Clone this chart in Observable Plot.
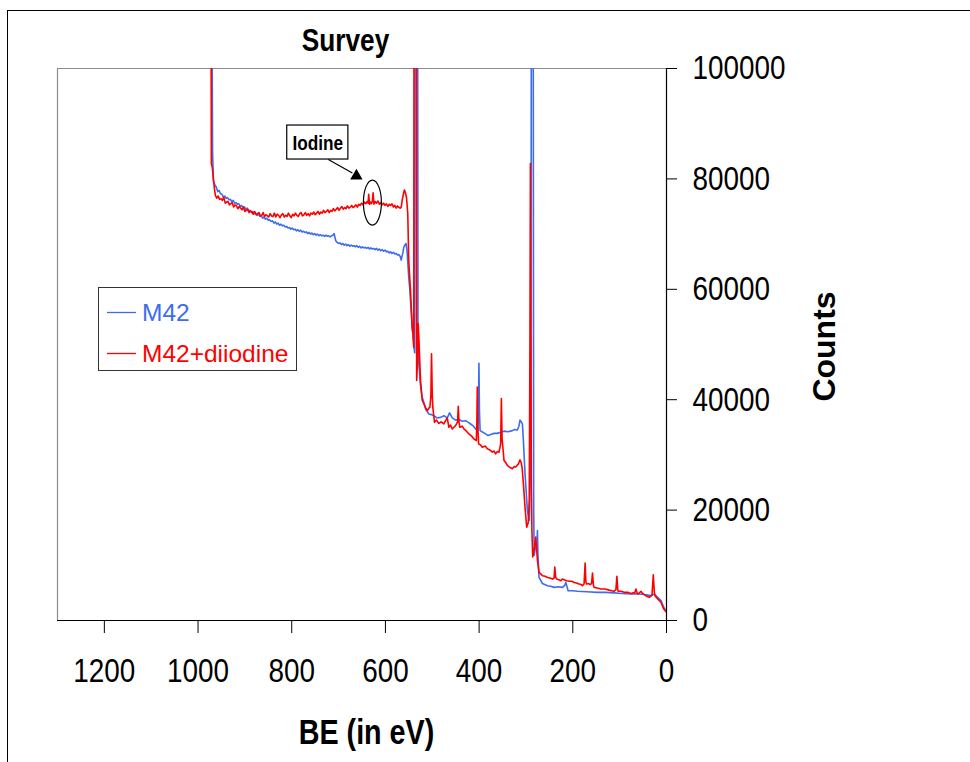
<!DOCTYPE html>
<html><head><meta charset="utf-8">
<script src="https://cdn.jsdelivr.net/npm/d3@7"></script>
<script src="https://cdn.jsdelivr.net/npm/@observablehq/plot@0.6"></script>
<style>
body{margin:0;background:#fff;overflow:hidden;}
#wrap{position:relative;width:970px;height:762px;overflow:hidden;}
#frame{position:absolute;left:7px;top:10px;width:1100px;height:900px;border:1px solid #000;box-sizing:border-box;}
#chart{position:absolute;left:0;top:0;}
#legend{position:absolute;left:98px;top:287px;width:199px;height:84px;border:1px solid #333;box-sizing:border-box;background:#fff;}
</style></head>
<body><div id="wrap"><div id="frame"></div><div id="chart"></div>
<div id="legend"><svg width="197" height="82" style="font-family:'Liberation Sans',Arial,sans-serif;font-size:24.5px">
<line x1="8" x2="37" y1="24.5" y2="24.5" stroke="#3d6cf0" stroke-width="1.3"></line>
<text x="43" y="33" fill="#3d6cf0">M42</text>
<line x1="8" x2="37" y1="65.5" y2="65.5" stroke="#ff0000" stroke-width="1.3"></line>
<text x="43" y="74" fill="#ff0000">M42+diiodine</text>
</svg></div>
</div>
<script>
// Series: M42 (binding energy in eV, counts)
const beM42 = [972.2,969.0,967.3,964.7,961.5,958,955,952,949,946,943,940,937,934,931,928,925,922,919,916,913,910,907,904,901,898,895,892,889,886,883,880,877,874,871,868,865,862,859,856,853,850,847,844,841,838,835,832,829,826,823,820,817,814,811,808,805,802,799,796,793,790,787,784,781,778,775,772,769,766,763,760,757,754,751,748,745,742,739,736,733,730,727,724,721,718,715,712,709.5,708,706,703,700,697,694,691,688,685,682,679,676,673,670,667,664,661,658,655,652,649,646,643,640,637,634,631,628,625,622,619,616,613,610,607,604,601,598,595,592,589,586,583,580,577,574,571.6,568,566.4,563,560.9,558,556.1,554,553.0,550.2,548,546.5,544.5,542.9,541,539.5,537.5,536,534.8,533.2,532.2,530.5,528.8,525.1,522,519.4,516,514.4,511,507.4,502,496.7,490,482.4,475,468.0,463.1,457.3,450,443.2,436,428.9,423,418.2,412,407.5,402.6,401.5,400.4,399.3,397.9,392,386.1,381,375.4,368,361.1,354,346.9,338,329.0,324,318.3,315,312.7,310,307.6,305.5,302.0,296.9,293.0,289.5,287.5,285.5,283.5,282.4,279.1,276.5,275.5,274.5,273.8,272.1,264.8,254.1,247,240.0,231,222.0,217,215.0,212,210.0,200,189.9,170,147.2,130,111.7,95,75.9,60,47.5,33.2,26.1,18.8,11.8,6.0,1.1,0];
const countsM42 = [150000,85000,79700,79000,78600,77700,77900,77300,77200,76700,76900,76500,76600,76200,76300,75900,76100,75600,75700,75400,75500,75000,75200,74800,74900,74500,74700,74200,74300,73900,74100,73700,73800,73400,73600,73200,73300,72900,73100,72700,72900,72500,72600,72300,72400,72000,72200,71800,72000,71600,71800,71500,71600,71300,71400,71100,71200,70900,71100,70800,70900,70600,70800,70500,70700,70400,70500,70300,70400,70100,70300,70000,70200,69900,70100,69800,70000,69700,69900,69700,69800,69600,69800,69600,69700,69500,69700,69800,70100,69500,68800,68500,68300,68400,68100,68300,68000,68200,67900,68100,67800,68000,67800,67900,67700,67900,67600,67800,67500,67700,67500,67600,67400,67600,67300,67500,67300,67400,67200,67400,67100,67300,67000,67200,66900,67100,66800,66900,66600,66800,66500,66700,66400,66500,66200,66300,65900,65300,66500,67600,68100,68300,67200,65800,62200,60000,58000,55500,53100,51500,49800,48500,200000,200000,200000,200000,52000,46600,42600,40600,39900,38900,38300,37900,37400,37300,37100,36700,36800,37100,36700,37600,36700,36300,36400,36100,36200,35900,35600,35200,34700,34400,38000,46600,38000,34400,34100,33800,33500,33700,33900,33900,34100,34300,34200,34400,34600,34500,35200,36300,36000,35600,32600,26600,19900,18100,30000,200000,200000,20000,11800,13600,14000,16300,12000,10900,7800,6700,6300,6200,6000,6100,6000,6400,6900,6000,5400,5400,5300,5200,5100,5100,5000,4900,4800,4800,4700,4500,4800,4200,3600,2400,1800,1600];

// Series: M42+diiodine (binding energy in eV, counts)
const beDiiodine = [973.0,971.6,969.4,967.3,965.1,963,960,957,954,951,948,945,942,939,936,933,930,927,924,921,918,915,912,909,906,903,900,897,894,891,888,885,882,879,876,873,870,867,864,861,858,855,852,849,846,843,840,837,834,831,828,825,822,819,816,813,810,807,804,801,798,795,792,789,786,783,780,777,774,771,768,765,762,759,756,753,750,747,744,741,738,735,732,729,726,723,720,717,714,711,708,705,702,699,696,693,690,687,684,681,678,675,672,669,666,663,660,657,654,651,648,645,642,639,637,635.7,634,632,630,628,626.3,624.5,622,619,616,613,610,607,604,601,598,595,592,589,586,583,580,577,574,571,568,566,564.3,561.5,559.4,557,555.1,552.3,550.2,548,546.5,544.5,542.9,541,539.5,538.2,537.5,536.2,535.5,533.3,531.5,530.1,528.5,527.3,525.1,521.5,518.1,514,510.8,507,505.2,503,501.6,500,498.8,495.2,491,486.0,481,475.3,471,468.0,464.6,461,457.3,453,450.3,446,444.5,443,441.1,436,432.5,427,421.8,416,411.1,406.0,404.8,403.9,402.8,401.1,397,393.2,387,382.5,377,371.8,368,364.7,361,357.6,354,352.5,351,348.7,346.9,343,339.7,334,329.0,325,321.9,316,312.7,310.5,308.4,305.5,302.0,298.4,295.2,293.0,291.5,290.5,289.5,288.5,287.3,285.6,282.4,279.1,275.5,272.1,268,264.8,259,254.1,249,243.4,240,238.5,236.5,234.2,230,225.7,222,218.6,213,207.9,202,197.2,192,186.5,182,179.3,176,173.7,172,170.1,166,163.0,160,157.9,156,154.4,148,140.1,131,122.4,117,111.7,108,105.9,104,103.1,97,90.3,83,75.9,71,68,65.2,62.5,61.6,58,54.5,51,47.5,42,36.8,31,28.2,26,24.6,18.8,11.8,6.0,1.1,0];
const countsDiiodine = [150000,82800,82000,80100,78300,77000,76500,76900,76300,76400,76100,76700,75600,75800,75900,75300,75500,75700,74900,75300,75100,74600,75000,74700,74400,74900,74100,74300,74500,73900,74200,74000,73600,74100,73500,73700,73900,73300,73400,73900,73200,73500,73300,73100,73700,73300,73200,73800,73100,73600,73400,73000,73500,73700,73100,73400,73200,73800,73300,73000,73600,73300,73800,73400,73200,73700,73900,73300,73500,73900,73400,73700,73300,73800,73600,74000,73500,73800,74100,73600,74000,73800,74300,73900,74100,74400,73900,74300,74100,74600,74200,74500,74800,74300,74700,75000,74500,74800,74600,75100,74700,74900,75200,74800,75000,75300,74900,75400,75200,75600,75300,75800,75500,75900,75600,77200,75400,75800,75500,75900,77500,75400,75900,75600,76000,75400,75700,75300,75600,75200,75500,75000,75400,75200,75500,74900,75200,74700,75100,74800,74700,75000,76100,77300,78000,77400,76700,73700,65200,62000,59800,56000,53100,51800,49500,200000,200000,200000,200000,43500,47000,53800,51000,48300,43500,39900,39300,38500,38000,38500,38600,40500,48300,41000,38600,35900,36300,35700,36000,35600,36300,36700,35000,35400,34700,35100,35300,36000,38800,36000,35000,35200,34700,34300,33800,33400,32900,32600,36000,42300,35000,32000,31800,31400,31600,31100,30900,30500,30700,30200,30600,30500,32000,40200,33000,30800,29000,28600,28100,27700,27500,27900,27800,28400,29100,28700,27800,24800,20500,16900,17700,21700,50000,82800,50000,25000,16300,11500,13000,15100,10900,8700,8400,8100,8000,7800,7700,7500,7700,9700,7800,7500,7400,7200,7500,7400,7200,7100,7100,6900,6800,6600,6500,6300,6600,10400,6900,6600,6700,6500,6700,8600,6400,6000,5900,5700,5700,5500,5400,5300,5600,8000,5600,5300,5300,5100,5100,4900,5000,5000,5700,4900,4800,5000,5300,4900,4700,4400,4200,4600,8300,5200,4500,3900,3300,2100,1600,1500];

// Axis ticks and domains
const xTicks = [1200, 1000, 800, 600, 400, 200, 0];
const yTicks = [0, 20000, 40000, 60000, 80000, 100000];
const xDomain = [1300, 0];
const yDomain = [0, 100000];

// Annotation (data coordinates: eV, counts)
const iodineLabel = ["Iodine"];
const iodineLabelBE = [744.4];
const iodineLabelCounts = [86500];
const iodineBoxBE = [809.6, 679.1];
const iodineBoxCounts = [83510, 89670];
const arrowBE = [721.9, 670.6];
const arrowCounts = [83510, 81070];
const arrowHeadBE = [662.0];
const arrowHeadCounts = [80530];
const ellipseBE = [627.8];
const ellipseCounts = [75720];

const BLUE = "#3d6cf0", RED = "#ff0000";
const FONT = "'Liberation Sans',Arial,sans-serif";

const m42 = beM42.map((b, i) => ({be: b, counts: countsM42[i]}));
const dii = beDiiodine.map((b, i) => ({be: b, counts: countsDiiodine[i]}));

const ellipseSymbol = {
  draw(ctx, size) {
    const ry = Math.sqrt(size / Math.PI), rx = ry * 0.4, k = 0.5523;
    ctx.moveTo(rx, 0);
    ctx.bezierCurveTo(rx, ry * k, rx * k, ry, 0, ry);
    ctx.bezierCurveTo(-rx * k, ry, -rx, ry * k, -rx, 0);
    ctx.bezierCurveTo(-rx, -ry * k, -rx * k, -ry, 0, -ry);
    ctx.bezierCurveTo(rx * k, -ry, rx, -ry * k, rx, 0);
    ctx.closePath();
  }
};

const chart = Plot.plot({
  width: 970,
  height: 762,
  marginLeft: 57,
  marginRight: 304,
  marginTop: 68,
  marginBottom: 142,
  style: {fontFamily: FONT, color: "#000", background: "transparent", overflow: "visible"},
  x: {domain: xDomain},
  y: {domain: yDomain},
  marks: [
    Plot.ruleY([yDomain[1]], {stroke: "#8c8c8c", strokeWidth: 1.2}),
    Plot.ruleX([xDomain[0]], {stroke: "#8c8c8c", strokeWidth: 1.2}),
    Plot.ruleX([0], {stroke: "#000", strokeWidth: 1.2}),
    Plot.ruleY([0], {x1: xDomain[0], x2: -21.4, stroke: "#000", strokeWidth: 1.2}),
    Plot.axisX({ticks: xTicks, tickSize: 13, tickPadding: 24, fontSize: 34, label: null, tickFormat: d3.format("d")}),
    Plot.axisY({anchor: "right", ticks: yTicks, tickSize: 10, tickPadding: 16, fontSize: 34, label: null, tickFormat: d3.format("d")}),
    Plot.line(m42, {x: "be", y: "counts", stroke: BLUE, strokeWidth: 1.6, clip: true}),
    Plot.line(dii, {x: "be", y: "counts", stroke: RED, strokeWidth: 1.6, clip: true}),
    Plot.rect([0], {x1: () => iodineBoxBE[0], x2: () => iodineBoxBE[1], y1: () => iodineBoxCounts[0], y2: () => iodineBoxCounts[1], fill: "#fff", stroke: "#000", strokeWidth: 1.2}),
    Plot.text(iodineLabel, {x: (d, i) => iodineLabelBE[i], y: (d, i) => iodineLabelCounts[i], text: d => d, fontSize: 21, fontWeight: "bold"}),
    Plot.link([0], {x1: () => arrowBE[0], x2: () => arrowBE[1], y1: () => arrowCounts[0], y2: () => arrowCounts[1], stroke: "#000", strokeWidth: 1.2}),
    Plot.dot([0], {x: () => arrowHeadBE[0], y: () => arrowHeadCounts[0], symbol: "triangle", r: 4.6, rotate: 120.5, fill: "#000", stroke: "none"}),
    Plot.dot([0], {x: () => ellipseBE[0], y: () => ellipseCounts[0], symbol: ellipseSymbol, r: 22.5, fill: "none", stroke: "#000", strokeWidth: 1.2}),
    Plot.text(["Survey"], {frameAnchor: "top-left", dx: 288, dy: -18, lineAnchor: "bottom", textAnchor: "middle", text: d => d, fontSize: 32, fontWeight: "bold"}),
    Plot.text(["BE (in eV)"], {frameAnchor: "bottom-left", dx: 309, dy: 123, lineAnchor: "bottom", textAnchor: "middle", text: d => d, fontSize: 35, fontWeight: "bold"}),
    Plot.text(["Counts"], {frameAnchor: "right", dx: 158, dy: 2, rotate: -90, textAnchor: "middle", lineAnchor: "middle", text: d => d, fontSize: 32, fontWeight: "bold"})
  ]
});
document.getElementById("chart").appendChild(chart);

// Narrow the horizontal texts (the reference uses a condensed face)
chart.querySelectorAll("text").forEach(t => {
  if (t.textContent === "Counts") return;
  const bb = t.getBBox();
  const anchor = getComputedStyle(t).textAnchor;
  const ax = anchor === "middle" ? bb.x + bb.width / 2 : anchor === "end" ? bb.x + bb.width : bb.x;
  const tr = t.getAttribute("transform") || "";
  t.setAttribute("transform", `${tr} translate(${ax},0) scale(0.82,1) translate(${-ax},0)`);
});
</script>
</body></html>
